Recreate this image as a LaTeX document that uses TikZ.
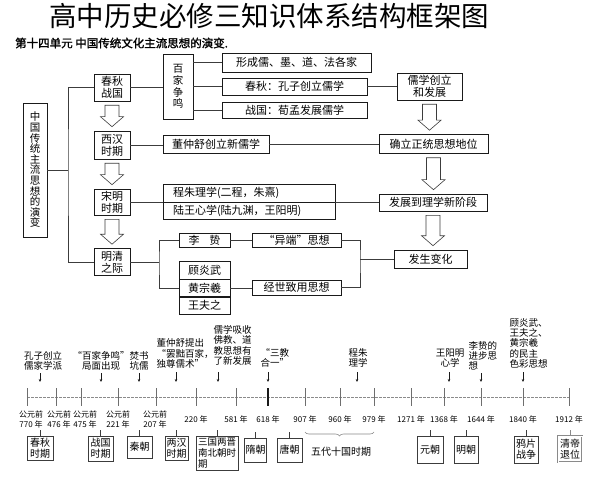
\documentclass[tikz,border=0pt]{standalone}
\usepackage{fontspec}
\setmainfont{Noto Sans CJK SC}
\newfontfamily\headfont[FakeBold=1.5]{Noto Sans CJK SC}
\usepackage{tikz}
\usetikzlibrary{calc,positioning,arrows.meta,decorations.pathreplacing}
\definecolor{ink}{HTML}{1A1A1A}
\definecolor{rule}{HTML}{3C3C3C}
\definecolor{grayline}{HTML}{8A8A8A}
\tikzset{
  box/.style={draw=ink, line width=0.6pt, fill=white, inner sep=1pt, align=center, font=\fontsize{11}{12}\selectfont},
  vbox/.style={box, font=\fontsize{10.5}{10.6}\selectfont},
  conn/.style={draw=rule, line width=0.6pt},
  hollow/.style={draw=rule, line width=0.6pt, fill=white, line join=miter},
  tline/.style={draw=grayline, line width=0.8pt, dash pattern=on 2.5pt off 1.5pt},
  tickln/.style={draw=grayline!80!black, line width=0.8pt},
  yr/.style={font=\fontsize{8}{10}\selectfont, align=center, inner sep=0pt},
  ev/.style={font=\fontsize{9.5}{10.3}\selectfont, inner sep=0.5pt},
  evarr/.style={draw=ink, line width=0.6pt, -{Stealth[length=3pt,width=2.6pt]}},
  per/.style={draw=rule, line width=0.8pt, fill=white, inner sep=1pt, align=center, font=\fontsize{10}{11}\selectfont},
  brc/.style={draw=grayline, line width=0.6pt, decorate, decoration={brace, amplitude=4pt, mirror}}
}

\begin{document}
\begin{tikzpicture}[x=1pt,y=-1pt]
  \useasboundingbox[fill=white] (0,0) rectangle (591,481);

  % headings
  \node[font=\fontsize{27.5}{30}\selectfont, inner sep=0pt] (title) at (269,16) {高中历史必修三知识体系结构框架图};
  \node[font=\headfont\fontsize{11.5}{13}\selectfont, anchor=west, inner sep=0pt] (unit) at (15,43) {第十四单元\ 中国传统文化主流思想的演变.};

  % left column
  \node[vbox, minimum width=24pt, minimum height=134pt] (main) at (35,170) {中\\国\\传\\统\\主\\流\\思\\想\\的\\演\\变};
  \node[box, minimum width=36pt, minimum height=27pt] (cq) at (112,87.5) {春秋\\战国};
  \node[box, minimum width=36pt, minimum height=28pt] (xh) at (112,145) {西汉\\时期};
  \node[box, minimum width=36pt, minimum height=26pt] (sm) at (112,202) {宋明\\时期};
  \node[box, minimum width=36pt, minimum height=27pt] (mq) at (112,262) {明清\\之际};
  \coordinate (tr) at (68,170);
  \draw[conn] (main.east) -- (tr);
  \draw[conn] (cq.west) -| (tr) |- (mq.west);

  % hundred schools
  \node[vbox, font=\fontsize{10.5}{11.7}\selectfont, minimum width=30pt, minimum height=65pt] (bj) at (178,86.5) {百\\家\\争\\鸣};
  \node[box, minimum width=149pt, minimum height=19pt] (b1) at (296.5,62.5) {形成儒、墨、道、法各家};
  \node[box, minimum width=145pt, minimum height=17pt] (b2) at (294.5,86.5) {春秋：孔子创立儒学};
  \node[box, minimum width=145pt, minimum height=16pt] (b3) at (294.5,110) {战国：荀孟发展儒学};
  \node[box, minimum width=65pt, minimum height=27pt] (rx) at (429.5,86.5) {儒学创立\\和发展};
  \draw[conn] (cq.east) -- (cq.east -| bj.west);
  \draw[conn] (b1.west) -- (b1.west -| bj.east);
  \draw[conn] (b2.west) -- (b2.west -| bj.east);
  \draw[conn] (b3.west) -- (b3.west -| bj.east);
  \draw[conn] (b2.east) -- (b2.east -| rx.west);

  % Han
  \node[box, minimum width=106pt, minimum height=18pt] (dz) at (216,144.5) {董仲舒创立新儒学};
  \node[box, minimum width=109pt, minimum height=19pt] (zt) at (433.5,144) {确立正统思想地位};
  \draw[conn] (xh.east) -- (xh.east -| dz.west);
  \draw[conn] (dz.east) -- (dz.east -| zt.west);

  % Song Ming
  \node[box, minimum width=172pt, minimum height=18pt, text width=152pt, align=left] (lx1) at (249,193) {程朱理学(二程，朱熹)};
  \node[box, minimum width=172pt, minimum height=17pt, text width=152pt, align=left, below=0pt of lx1] (lx2) {陆王心学(陆九渊，王阳明)};
  \node[box, minimum width=108pt, minimum height=17pt] (fz) at (433,202.5) {发展到理学新阶段};
  \draw[conn] (sm.east) -- (sm.east -| lx1.west);
  \draw[conn] (lx1.south east) -- (lx1.south east -| fz.west);

  % Ming Qing
  \node[box, minimum width=51pt, minimum height=14pt] (lz) at (204.5,240) {李\hspace{0.9em}贽};
  \node[box, minimum width=89pt, minimum height=14pt] (yd) at (296.5,240) {“异端”思想};
  \node[box, minimum width=51pt, minimum height=18pt] (gy) at (204.5,270) {顾炎武};
  \node[box, minimum width=51pt, minimum height=17pt, below=0pt of gy] (hz) {黄宗羲};
  \node[box, minimum width=51pt, minimum height=17pt, below=0pt of hz] (wf) {王夫之};
  \node[box, minimum width=89pt, minimum height=15pt] (jy) at (296.5,287.5) {经世致用思想};
  \node[box, minimum width=73pt, minimum height=18pt] (fs) at (430.5,259) {发生变化};
  \coordinate (br) at (159,262);
  \coordinate (rb) at (360,259);
  \draw[conn] (mq.east) -- (br);
  \draw[conn] (lz.west) -| (br) |- (hz.west);
  \draw[conn] (lz.east) -- (yd.west);
  \draw[conn] (hz.east) -- (hz.east -| jy.west);
  \draw[conn] (yd.east) -| (rb) |- (jy.east);
  \draw[conn] (rb) -- (fs.west);

  % hollow arrows
  \foreach \a/\b in {cq/xh,xh/sm,sm/mq,rx/zt,zt/fz,fz/fs}
    \draw[hollow] let \p1=(\a.south), \p2=(\b.north) in
      (\x1-7pt,\y1-4pt) -- (\x1+7pt,\y1-4pt) -- (\x1+7pt,\y2+14pt) -- (\x1+11.5pt,\y2+14pt)
      -- (\x1,\y2+4pt) -- (\x1-11.5pt,\y2+14pt) -- (\x1-7pt,\y2+14pt) -- cycle;

  % timeline
  \coordinate (t1) at (27,397);  \coordinate (t2) at (56,397);  \coordinate (t3) at (81,397);
  \coordinate (t4) at (118,397); \coordinate (t5) at (156,397); \coordinate (t6) at (196,397);
  \coordinate (t7) at (236,397); \coordinate (t8) at (268,397); \coordinate (t9) at (305,397);
  \coordinate (t10) at (340,397); \coordinate (t11) at (374,397); \coordinate (t12) at (411,397);
  \coordinate (t13) at (444,397); \coordinate (t14) at (481,397); \coordinate (t15) at (523,397);
  \coordinate (t16) at (569,397);
  \draw[tline] (t1) -- (t16);
  \foreach \i in {1,...,16}
    \draw[tickln] ([yshift=9pt]t\i) -- ([yshift=-9pt]t\i);
  \draw[draw=ink, line width=1.1pt] ([yshift=9pt]t8) -- ([yshift=-9pt]t8);

  % years
  \node[yr] (y1) at (31,419) {公元前\\770 年};
  \node[yr] (y2) at (59,419) {公元前\\476 年};
  \node[yr] (y3) at (85,419) {公元前\\475 年};
  \node[yr] (y4) at (118,419) {公元前\\221 年};
  \node[yr] (y5) at (155,419) {公元前\\207 年};
  \node[yr] (y6) at (t6 |- y1) {220 年};
  \node[yr] (y7) at (t7 |- y1) {581 年};
  \node[yr] (y8) at (t8 |- y1) {618 年};
  \node[yr] (y9) at (t9 |- y1) {907 年};
  \node[yr] (y10) at (t10 |- y1) {960 年};
  \node[yr] (y11) at (t11 |- y1) {979 年};
  \node[yr] (y12) at (t12 |- y1) {1271 年};
  \node[yr] (y13) at (t13 |- y1) {1368 年};
  \node[yr] (y14) at (t14 |- y1) {1644 年};
  \node[yr] (y15) at (t15 |- y1) {1840 年};
  \node[yr] (y16) at (t16 |- y1) {1912 年};

  % events
  \node[ev, anchor=south, align=center] (e1) at (43,371) {孔子创立\\儒家学派};
  \node[ev, anchor=south, align=center] (e2) at (101,371) {“百家争鸣”\\局面出现};
  \node[ev, anchor=south, align=center] (e3) at (139,371) {焚书\\坑儒};
  \node[ev, anchor=south west, align=left] (e4) at (156,369) {董仲舒提出\\“罢黜百家，\\独尊儒术”};
  \node[ev, anchor=south west, align=left] (e5) at (213,366) {儒学吸收\\佛教、道\\教思想有\\了新发展};
  \node[ev, anchor=south west, align=left] (e6) at (260,368) {“三教\\合一”};
  \node[ev, anchor=south, align=center] (e7) at (358,368) {程朱\\理学};
  \node[ev, anchor=south, align=center] (e8) at (450,368) {王阳明\\心学};
  \node[ev, anchor=south west, align=left] (e9) at (468,371) {李贽的\\进步思\\想};
  \node[ev, anchor=south west, align=left] (e10) at (509,369) {顾炎武、\\王夫之、\\黄宗羲\\的民主\\色彩思想};
  \coordinate (a1) at (40,382);  \coordinate (a2) at (101,382); \coordinate (a3) at (139,382);
  \coordinate (a4) at (176,382); \coordinate (a5) at (218,382); \coordinate (a6) at (268,382);
  \coordinate (a7) at (357,382); \coordinate (a8) at (449,382); \coordinate (a9) at (481,382);
  \coordinate (a10) at (523,382);
  \draw[evarr] (a1 |- e1.south) ++(0,2) -- (a1);
  \draw[evarr] (a2 |- e2.south) ++(0,2) -- (a2);
  \draw[evarr] (a3 |- e3.south) ++(0,2) -- (a3);
  \draw[evarr] (a4 |- e4.south) ++(0,3) -- (a4);
  \draw[evarr] (a5 |- e5.south) ++(0,6) -- (a5);
  \draw[evarr] (a6 |- e6.south) ++(0,4) -- (a6);
  \draw[evarr] (a7 |- e7.south) ++(0,4) -- (a7);
  \draw[evarr] (a8 |- e8.south) ++(0,4) -- (a8);
  \draw[evarr] (a9 |- e9.south) ++(0,2) -- (a9);
  \draw[evarr] (a10 |- e10.south) ++(0,3) -- (a10);

  % periods
  \node[per, minimum width=26pt, minimum height=24pt] (p1) at (40,448) {春秋\\时期};
  \node[per, minimum width=25pt, minimum height=25pt] (p2) at (100.5,448.5) {战国\\时期};
  \node[per, minimum width=25pt, minimum height=22pt] (p3) at (139.5,447) {秦朝};
  \node[per, minimum width=23pt, minimum height=24pt] (p4) at (176.5,448) {两汉\\时期};
  \node[per, minimum width=42pt, minimum height=34pt, align=left, font=\fontsize{9.5}{11}\selectfont] (p5) at (217,453) {三国两晋\\南北朝时\\期};
  \node[per, minimum width=21pt, minimum height=24pt] (p6) at (255.5,450) {隋朝};
  \node[per, minimum width=25pt, minimum height=24pt] (p7) at (289.5,450) {唐朝};
  \node[per, minimum width=26pt, minimum height=27pt] (p8) at (430,449.5) {元朝};
  \node[per, minimum width=24pt, minimum height=27pt] (p9) at (466,449.5) {明朝};
  \node[per, minimum width=24pt, minimum height=27pt] (p10) at (526,449.5) {鸦片\\战争};
  \node[per, minimum width=24pt, minimum height=26pt, draw=grayline, double=white, double distance=0.6pt] (p11) at (570,449) {清帝\\退位};
  \draw[conn] (p1.north) -- ++(0,-6);
  \draw[conn] (p2.north) -- ++(0,-6);
  \draw[conn] (p3.north) -- ++(0,-6);
  \draw[conn] (p4.north) -- ++(0,-6);
  \draw[conn] (p5.north) -- ++(0,-6);
  \draw[conn] (p6.north) -- ++(0,-6);
  \draw[conn] (p7.north) -- ++(0,-6);
  \draw[conn] (p8.north) -- ++(0,-6);
  \draw[conn] (p9.north) -- ++(0,-6);
  \draw[conn] (p10.north) -- ++(0,-6);
  \draw[conn, draw=grayline] (p11.north) -- ++(0,-6);

  % five dynasties
  \draw[brc] ([yshift=-35pt]t9) -- ([yshift=-35pt]t11);
  \node[font=\fontsize{10}{11}\selectfont] (wd) at (341,452) {五代十国时期};
\end{tikzpicture}
\end{document}
